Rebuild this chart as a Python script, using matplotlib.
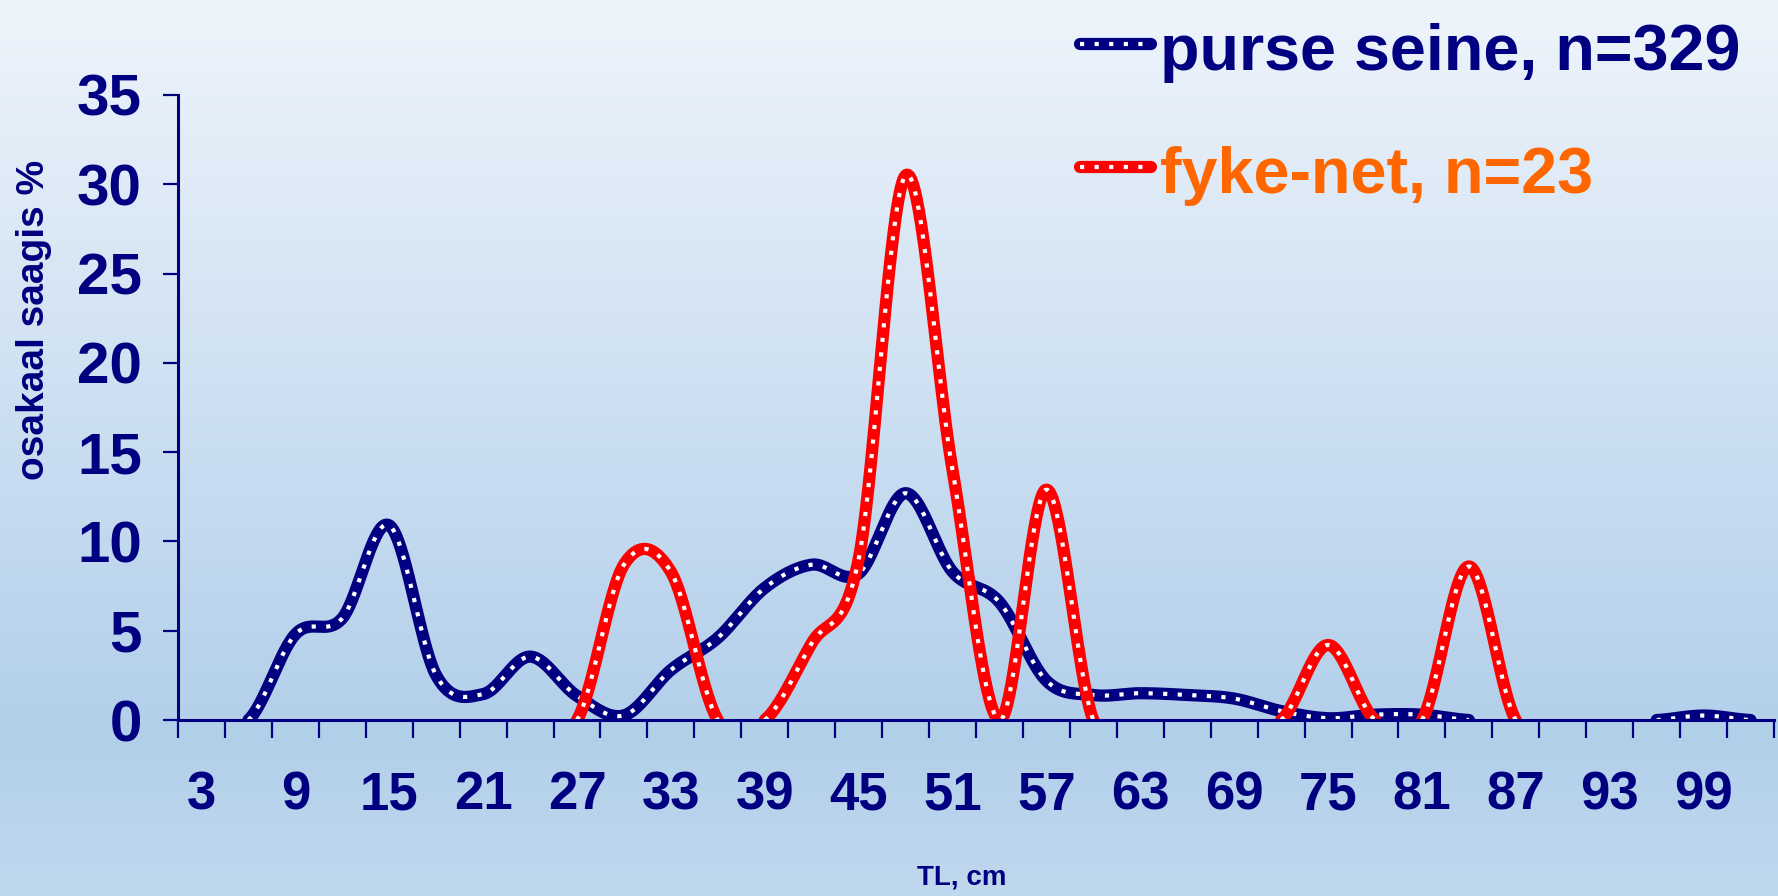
import numpy as np
import matplotlib
matplotlib.use("Agg")
import matplotlib.pyplot as plt
from matplotlib.lines import Line2D
from matplotlib import font_manager as fm
from matplotlib.colors import LinearSegmentedColormap

nan = np.nan
# TL categories (cm)
lengths = list(range(3, 103, 3))
# share in catch, %
purse_seine = [nan, 0.0, 4.8, 5.7, 10.9, 2.5, 1.45, 3.55, 1.35, 0.26, 2.8, 4.6,
               7.4, 8.7, 8.2, 12.7, 8.3, 6.6, 2.2, 1.4, 1.5, 1.4, 1.2, 0.5,
               0.1, 0.3, 0.3, 0.0, nan, nan, nan, 0.0, 0.25, 0.0]
fyke_net = [nan, nan, nan, nan, nan, nan, nan, nan, 0.0, 8.7, 8.3, 0.0,
            0.0, 4.3, 9.0, 30.5, 14.0, 0.0, 12.9, 0.0, nan, nan, nan, 0.0,
            4.2, 0.0, 0.0, 8.6, 0.0, nan, nan, nan, nan, nan]
series_labels = ["purse seine, n=329", "fyke-net, n=23"]
yticks = [0, 5, 10, 15, 20, 25, 30, 35]

NAVY = "#000080"
RED = "#FF0000"
ORANGE = "#FF6600"

names = {f.name for f in fm.fontManager.ttflist}
if "Liberation Sans Narrow" in names:
    NARROW, xsz, lsz = "Liberation Sans Narrow", 43, 55
else:
    NARROW, xsz, lsz = "Liberation Sans", 38, 46.5
WIDE = "Liberation Sans" if "Liberation Sans" in names else "DejaVu Sans"


def smooth_runs(vals, n=40):
    """Excel-like smoothed line (cardinal spline) through the given points."""
    y = np.asarray(vals, float)
    runs, cx, cy = [], [], []
    for i in range(len(y) - 1):
        a, b = y[i], y[i + 1]
        ok = np.isfinite(a) and np.isfinite(b) and not (a == 0 and b == 0)
        if not ok:
            if cx:
                runs.append((np.concatenate(cx), np.concatenate(cy)))
                cx, cy = [], []
            continue
        p0 = y[i - 1] if i > 0 and np.isfinite(y[i - 1]) else a
        p3 = y[i + 2] if i + 2 < len(y) and np.isfinite(y[i + 2]) else b
        m0 = (b - p0) / 2.0
        m1 = (p3 - a) / 2.0
        t = np.linspace(0, 1, n)
        if cx:
            t = t[1:]
        h00 = 2 * t**3 - 3 * t**2 + 1
        h10 = t**3 - 2 * t**2 + t
        h01 = -2 * t**3 + 3 * t**2
        h11 = t**3 - t**2
        cx.append(i + t)
        cy.append(h00 * a + h10 * m0 + h01 * b + h11 * m1)
    if cx:
        runs.append((np.concatenate(cx), np.concatenate(cy)))
    return runs


W, H = 1778, 896
fig = plt.figure(figsize=(W / 100, H / 100), dpi=100)

# background gradient
bg = fig.add_axes([0, 0, 1, 1], zorder=-10)
bg.axis("off")
cmap = LinearSegmentedColormap.from_list(
    "bg", [(0.0, "#EEF4FB"), (0.82, "#B2CFEA"), (1.0, "#C0D8EE")])
bg.imshow(np.linspace(0, 1, 256).reshape(-1, 1), aspect="auto", cmap=cmap,
          extent=[0, 1, 0, 1], origin="upper")

ax = fig.add_axes([178 / W, 176 / H, (1774 - 178) / W, (720 - 95) / H])
ax.set_facecolor("none")

LW = 8.8
DLW = 3.0
DASH = (1, 2.5)
for vals, col in ((purse_seine, NAVY), (fyke_net, RED)):
    for xs, ys in smooth_runs(vals):
        ax.plot(xs, ys, color=col, lw=LW, solid_capstyle="round",
                solid_joinstyle="round", zorder=2)
        ax.plot(xs, ys, color="white", lw=DLW, dashes=DASH,
                dash_capstyle="butt", zorder=2)

ax.set_xlim(-0.5, len(lengths) - 0.5)
ax.set_ylim(0, 35)
for s in ("top", "right"):
    ax.spines[s].set_visible(False)
for s in ("left", "bottom"):
    ax.spines[s].set_color(NAVY)
    ax.spines[s].set_linewidth(2.2)
    ax.spines[s].set_zorder(3)

ax.set_xticks(np.arange(-0.5, len(lengths), 1.0))
ax.set_xticklabels([])
ax.set_xticks(np.arange(0, len(lengths), 2), minor=True)
ax.set_xticklabels([str(v) for v in lengths[::2]], minor=True)
ax.tick_params(axis="x", which="major", direction="out", length=13, width=1.6,
               color=NAVY)
ax.tick_params(axis="x", which="minor", length=0, pad=36, labelcolor=NAVY,
               labelsize=xsz)
for lab in ax.get_xticklabels(minor=True):
    lab.set_fontfamily(NARROW)
    lab.set_fontweight("bold")

ax.set_yticks(yticks)
ax.set_yticklabels([str(v) for v in yticks])
ax.tick_params(axis="y", direction="out", length=11, width=1.6, color=NAVY,
               pad=15, labelcolor=NAVY, labelsize=42)
for lab in ax.get_yticklabels():
    lab.set_fontfamily(WIDE)
    lab.set_fontweight("bold")

fig.text(34 / W, 1 - 320 / H, "osakaal saagis %", rotation=90, ha="center",
         va="center", fontsize=28, fontweight="bold", color=NAVY, family=WIDE)
fig.text(962 / W, 1 - 877 / H, "TL, cm", ha="center", va="center",
         fontsize=20, fontweight="bold", color=NAVY, family=WIDE)

# legend
for (ly, by, col, tcol, lab) in ((44, 70, NAVY, NAVY, series_labels[0]),
                                 (167, 193, RED, ORANGE, series_labels[1])):
    xx = [1080 / W, 1151 / W]
    yy = [1 - ly / H, 1 - ly / H]
    fig.add_artist(Line2D(xx, yy, transform=fig.transFigure, color=col,
                          lw=LW, solid_capstyle="round"))
    fig.add_artist(Line2D(xx, yy, transform=fig.transFigure, color="white",
                          lw=DLW, dashes=DASH))
    fig.text(1160 / W, 1 - by / H, lab, ha="left", va="baseline",
             fontsize=lsz, fontweight="bold", color=tcol, family=NARROW)

fig.savefig("out.png", dpi=100)
